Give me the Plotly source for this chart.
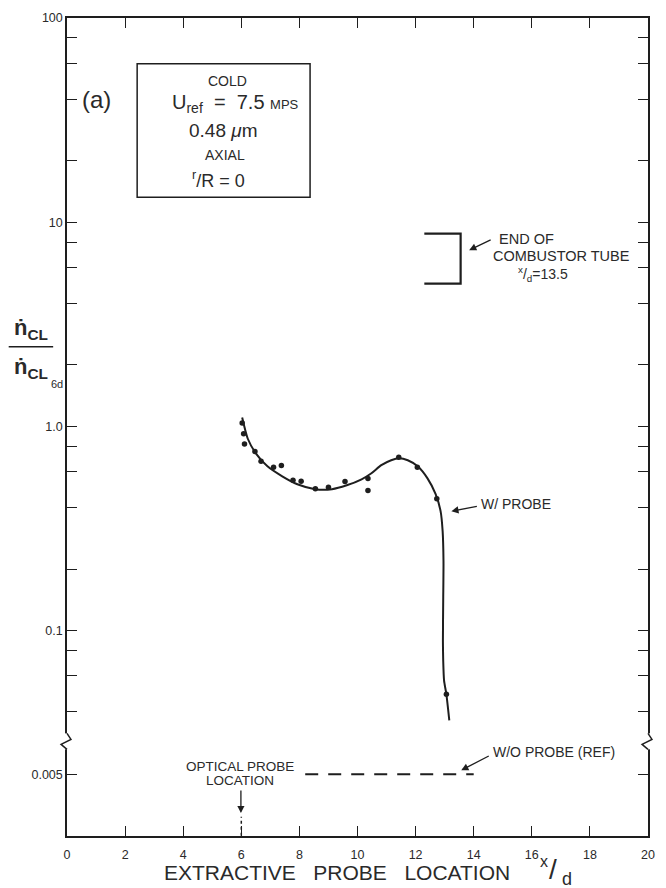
import plotly.graph_objects as go

# ---------------- data ----------------
curve_x = [6.03, 6.22, 6.50, 6.90, 7.41, 7.93, 8.54, 9.12, 9.63, 10.14, 10.48, 10.82,
           11.16, 11.43, 11.73, 12.07, 12.41, 12.69, 12.86, 12.93, 12.96, 12.95, 12.94,
           12.95, 12.98, 13.06, 13.16]
curve_y = [1.106, 0.873, 0.738, 0.638, 0.570, 0.521, 0.493, 0.493, 0.515, 0.551, 0.590,
           0.646, 0.683, 0.698, 0.683, 0.638, 0.557, 0.466, 0.385, 0.308, 0.219, 0.140,
           0.0893, 0.0714, 0.057, 0.0488, 0.0364]
pts_x = [6.03, 6.08, 6.11, 6.47, 6.68, 7.11, 7.38, 7.78, 8.06, 8.55, 9.00, 9.57,
         10.36, 10.36, 11.42, 12.06, 12.73, 13.06]
pts_y = [1.04, 0.92, 0.82, 0.755, 0.675, 0.632, 0.643, 0.546, 0.539, 0.495, 0.504, 0.537,
         0.556, 0.486, 0.706, 0.631, 0.442, 0.0488]
ref_x = [8.2, 14.0]
ref_y = [0.005, 0.005]
tube_x = [12.3, 13.55, 13.55, 12.3]
tube_y = [8.8, 8.8, 5.0, 5.0]
probe_x = [6, 6]
probe_y = [0.0025, 0.0031]
x_ticks = [0, 2, 4, 6, 8, 10, 12, 14, 16, 18, 20]
y_major = [0.1, 1, 10, 100]
y_major_text = ["0.1", "1.0", "10", "100"]
y_minor = [0.04, 0.06, 0.08, 0.2, 0.4, 0.6, 0.8, 2, 4, 6, 8, 20, 40, 60, 80]
y_low = [0.005]
y_low_text = ["0.005"]

# ---------------- layout geometry ----------------
W, H = 666, 888
L, R, T, B = 67, 655, 15, 836
BREAK = 740
INK = "#1e1e1e"
TXT = "#2a2a2a"
FONT = "Liberation Sans"


def px(xp):
    return (xp - L) / (R - L)


def py(yp):
    return (B - yp) / (B - T)


fig = go.Figure()
fig.add_trace(go.Scatter(x=curve_x, y=curve_y, mode="lines",
                         line=dict(color=INK, width=2, shape="spline", smoothing=0.6),
                         xaxis="x", yaxis="y", showlegend=False, hoverinfo="skip"))
fig.add_trace(go.Scatter(x=pts_x, y=pts_y, mode="markers",
                         marker=dict(color=INK, size=5.5), xaxis="x", yaxis="y",
                         showlegend=False))
fig.add_trace(go.Scatter(x=tube_x, y=tube_y, mode="lines",
                         line=dict(color=INK, width=2.2), xaxis="x", yaxis="y",
                         showlegend=False))
fig.add_trace(go.Scatter(x=ref_x, y=ref_y, mode="lines",
                         line=dict(color=INK, width=2, dash="13px,10px"),
                         xaxis="x2", yaxis="y2", showlegend=False))
fig.add_trace(go.Scatter(x=probe_x, y=probe_y, mode="lines",
                         line=dict(color=INK, width=1.5, dash="3px,3px"),
                         xaxis="x2", yaxis="y2", showlegend=False))

yd = (B - BREAK) / (B - T)
axis_common = dict(showgrid=False, zeroline=False, showline=True, linecolor=INK,
                   linewidth=1.5, ticks="inside", ticklen=10, tickwidth=1.3,
                   tickcolor=INK, tickfont=dict(family=FONT, size=12.5, color=TXT))

fig.update_layout(
    width=W, height=H, margin=dict(l=L, r=W - R, t=T, b=H - B),
    paper_bgcolor="white", plot_bgcolor="white",
    font=dict(family=FONT, color=TXT),
    xaxis=dict(range=[0, 20], anchor="y", side="top", domain=[0, 1],
               tickvals=x_ticks[1:-1], showticklabels=False, **axis_common),
    xaxis2=dict(range=[0, 20], anchor="y2", side="bottom", domain=[0, 1], matches="x",
                tickvals=x_ticks, ticktext=[str(v) for v in x_ticks],
                ticklabelstandoff=6, **axis_common),
    yaxis=dict(type="log", range=[-1.537, 2], domain=[yd, 1], anchor="x",
               tickvals=y_major + y_minor,
               ticktext=y_major_text + [""] * len(y_minor), mirror="ticks",
               **axis_common),
    yaxis2=dict(type="log", range=[-2.603, -2.135], domain=[0, yd], anchor="x2",
                tickvals=y_low, ticktext=y_low_text, mirror="ticks", **axis_common),
)

shapes = []
# axis breaks (zigzag) on both vertical axes
for xa in (L, R):
    shapes.append(dict(type="rect", xref="paper", yref="paper",
                       x0=px(xa - 2.5), x1=px(xa + 2.5), y0=py(749), y1=py(733),
                       fillcolor="white", line=dict(width=0), layer="above"))
    path = "M {} {} L {} {} L {} {} L {} {}".format(
        px(xa), py(733), px(xa + 4), py(739), px(xa - 6), py(744), px(xa), py(749))
    shapes.append(dict(type="path", xref="paper", yref="paper", path=path,
                       line=dict(color=INK, width=1.5), layer="above"))
# info box
shapes.append(dict(type="rect", xref="paper", yref="paper", x0=px(138), x1=px(313),
                   y0=py(195), y1=py(61), line=dict(color=INK, width=1.5)))
# y-title fraction bar
shapes.append(dict(type="line", xref="paper", yref="paper", x0=px(8), x1=px(53),
                   y0=py(345), y1=py(345), line=dict(color=INK, width=1.5)))
fig.update_layout(shapes=shapes)

ann = []


def text(xp, yp, s, size, xanchor="center", color=TXT, family=FONT):
    ann.append(dict(x=px(xp), y=py(yp), xref="paper", yref="paper", text=s,
                    showarrow=False, xanchor=xanchor, yanchor="middle",
                    font=dict(size=size, color=color, family=family)))


def arrow(xh, yh, xt, yt):
    ann.append(dict(x=px(xh), y=py(yh), xref="paper", yref="paper", text="",
                    showarrow=True, ax=xt - xh, ay=yt - yh, arrowhead=2,
                    arrowsize=1.1, arrowwidth=1.3, arrowcolor=INK))


text(97, 97, "(a)", 24)
text(229, 78, "COLD", 14)
text(238, 101, "U<sub>ref</sub>  =  7.5 <span style='font-size:13px'>MPS</span>", 20)
text(225, 128, "0.48 <i>μ</i>m", 19)
text(227, 153, "AXIAL", 14)
text(220, 177, "<sup>r</sup>/R = 0", 18)

text(31, 327, "<b>ṅ<sub>CL</sub></b>", 22)
text(31, 366, "<b>ṅ<sub>CL</sub></b>", 22)
text(57, 382, "6d", 11)

text(532, 237, "END OF", 14.5)
text(567, 254, "COMBUSTOR TUBE", 14.5)
text(549, 272, "<sup>x</sup>/<sub>d</sub>=13.5", 14)
arrow(474, 248, 497, 237)

text(484, 503, "W/ PROBE", 14, xanchor="left")
arrow(456, 510, 483, 505)

text(496, 752, "W/O PROBE (REF)", 14, xanchor="left")
arrow(466, 770, 495, 755)

text(242, 766, "OPTICAL PROBE", 13.5)
text(242, 780, "LOCATION", 13.5)
arrow(243, 813, 243, 789)

text(340, 873, "EXTRACTIVE&nbsp;&nbsp; PROBE&nbsp;&nbsp; LOCATION", 21)
text(550, 862, "x", 16)
text(559, 870, "/", 28)
text(573, 879, "d", 18)

fig.update_layout(annotations=ann)
fig.write_html("out.html")
